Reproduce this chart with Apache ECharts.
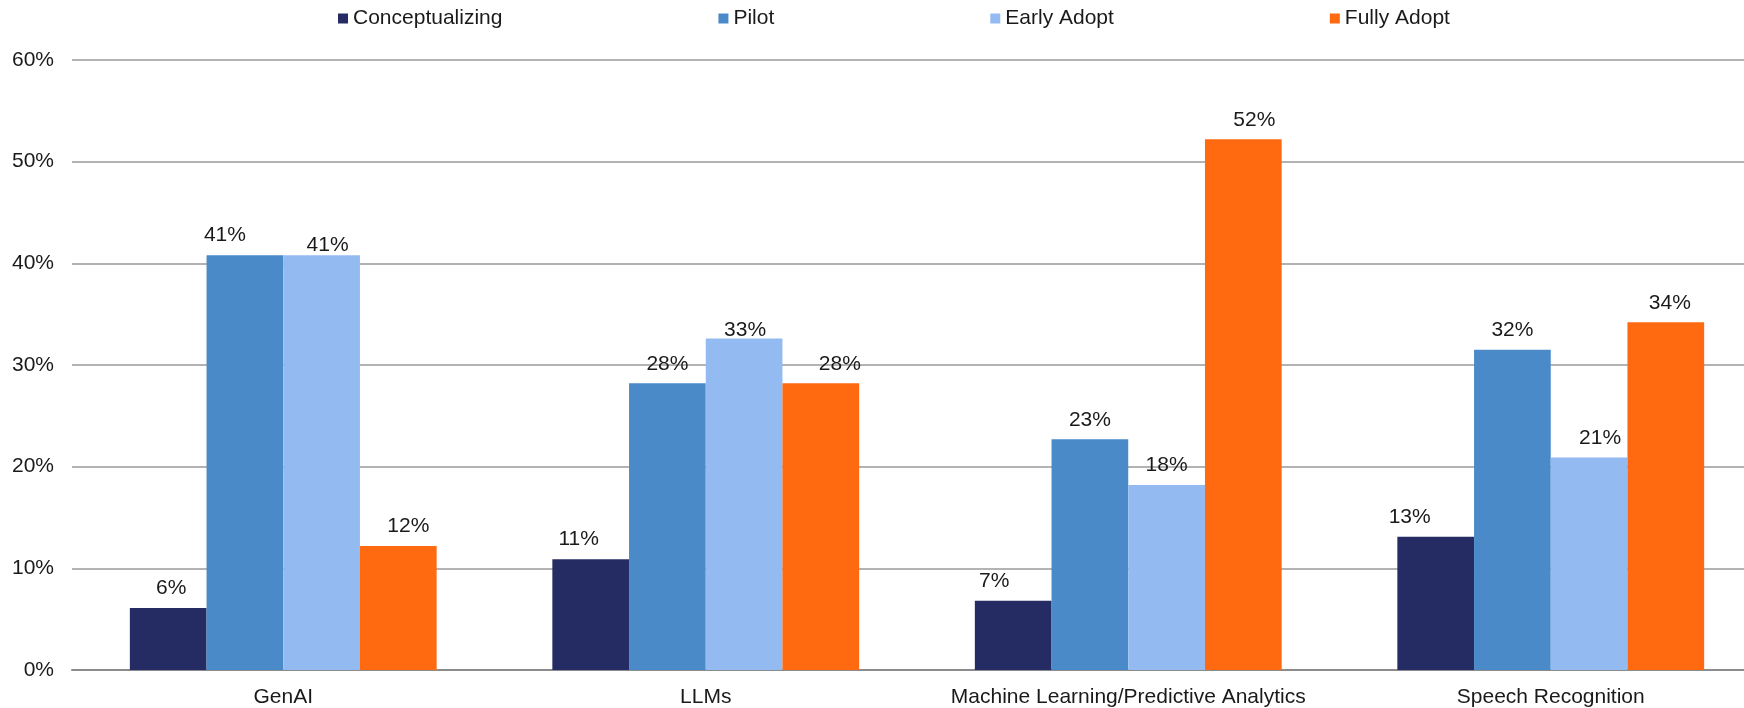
<!DOCTYPE html>
<html>
<head>
<meta charset="utf-8">
<title>AI adoption stages</title>
<script src="https://cdn.jsdelivr.net/npm/echarts@6/dist/echarts.min.js"></script>
<style>
  html, body { margin: 0; padding: 0; background: #ffffff; }
  #chart { width: 1744px; height: 708px; }
</style>
</head>
<body>
<div id="chart"></div>
<script>
// Technology categories on the x axis
const categories = ['GenAI', 'LLMs', 'Machine Learning/Predictive Analytics', 'Speech Recognition'];

// Share of respondents at each adoption stage (percent)
const conceptualizing = [6.1, 10.9, 6.8, 13.1];
const pilot           = [40.8, 28.2, 22.7, 31.5];
const earlyAdopt      = [40.8, 32.6, 18.2, 20.9];
const fullyAdopt      = [12.2, 28.2, 52.2, 34.2];

// Value axis ticks
const yTicks = [0, 10, 20, 30, 40, 50, 60];

const seriesDefs = [
  { name: 'Conceptualizing', data: conceptualizing, color: '#242c63' },
  { name: 'Pilot',           data: pilot,           color: '#4a8ac8' },
  { name: 'Early Adopt',     data: earlyAdopt,      color: '#93bbf2' },
  { name: 'Fully Adopt',     data: fullyAdopt,      color: '#ff6910' }
];

// Small shifts that keep neighbouring value labels from crowding each other
const labelNudge = {
  'Conceptualizing': [[3, 0], [-12, 0], [-19, 0], [-26, 0]],
  'Pilot':           [[-20, 0], [0, 0], [0, 0], [0, 0]],
  'Early Adopt':     [[6, 10], [1, 11], [0, 0], [11, 0]],
  'Fully Adopt':     [[10, 0], [19, 0], [11, 0], [4, 0]]
};

const FONT = "'Liberation Sans', Arial, sans-serif";
const TEXT = '#1a1a1a';

const chart = echarts.init(document.getElementById('chart'), null, { renderer: 'canvas' });

const series = seriesDefs.map(s => ({
  name: s.name,
  type: 'bar',
  barWidth: 76.7,
  barGap: '0%',
  itemStyle: { color: s.color },
  data: s.data.map((v, i) => {
    const n = labelNudge[s.name][i];
    return { value: v, label: { offset: [n[0], n[1]] } };
  }),
  label: {
    show: true,
    position: 'top',
    distance: 9,
    color: TEXT,
    fontFamily: FONT,
    fontSize: 21,
    formatter: p => Math.round(p.value) + '%'
  }
}));

chart.setOption({
  animation: false,
  backgroundColor: '#ffffff',
  color: seriesDefs.map(s => s.color),
  textStyle: { fontFamily: FONT },
  legend: {
    left: 333,
    top: 3,
    icon: 'rect',
    itemWidth: 10,
    itemHeight: 10,
    itemGap: 216,
    textStyle: { color: TEXT, fontFamily: FONT, fontSize: 21 },
    data: seriesDefs.map(s => s.name)
  },
  // The plot area runs a little past the right edge of the canvas
  grid: {
    left: 72, width: 1690, top: 60, bottom: 38,
    containLabel: false,
    outerBoundsMode: 'none'
  },
  xAxis: {
    type: 'category',
    data: categories,
    axisLine: { show: true, lineStyle: { color: '#8c8c8c', width: 2 } },
    axisTick: { show: false },
    axisLabel: { color: TEXT, fontFamily: FONT, fontSize: 21, margin: 17, interval: 0 }
  },
  yAxis: {
    type: 'value',
    min: yTicks[0],
    max: yTicks[yTicks.length - 1],
    interval: yTicks[1] - yTicks[0],
    axisLine: { show: false },
    axisTick: { show: false },
    splitLine: { show: true, lineStyle: { color: '#b3b3b3', width: 2 } },
    axisLabel: { color: TEXT, fontFamily: FONT, fontSize: 21, margin: 18, formatter: '{value}%' }
  },
  series: series
});
</script>
</body>
</html>
